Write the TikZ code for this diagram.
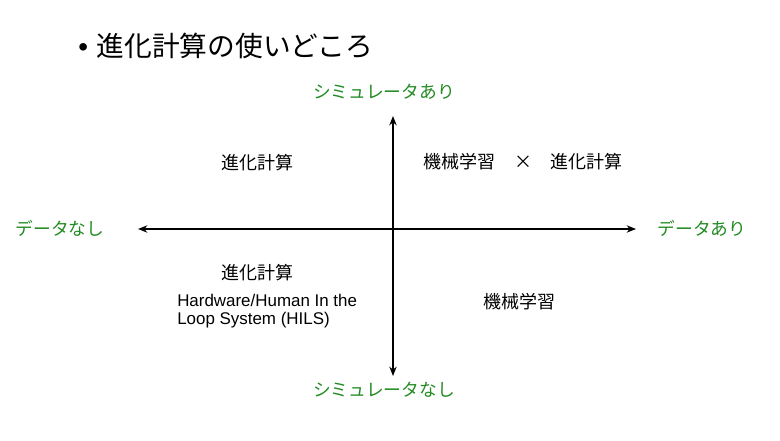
\documentclass[tikz,border=0pt]{standalone}
\usepackage{fontspec}
\setmainfont{Liberation Sans}
\newfontfamily\cjk{Noto Sans CJK JP}
\usetikzlibrary{arrows.meta}
\definecolor{midori}{RGB}{34,139,34}
\begin{document}
\begin{tikzpicture}[x=0.75pt,y=-0.75pt,line join=round,>={Stealth[length=7pt,width=5.5pt]}]
	\tikzset{
		jiku/.style={<->,line width=1.1pt},
		ryoiki/.style={text=midori,font=\cjk\fontsize{13.3}{16}\selectfont,inner sep=0pt},
		koumoku/.style={font=\cjk\fontsize{13.5}{16}\selectfont,inner sep=0pt},
		eigo/.style={font=\fontsize{12.7}{15}\selectfont,inner sep=0pt,anchor=west}
	}
	\useasboundingbox[fill=white](0,0)rectangle(780,440);
	% title
	\node[font=\fontsize{20.8}{24}\selectfont,inner sep=0pt,anchor=west](midashi) at (78,46)
		{\textbullet\hspace{6.5pt}{\cjk 進化計算の使いどころ}};
	% axes
	\coordinate(ue) at (393,116);
	\coordinate(shita) at (393,376);
	\coordinate(hidari) at (138,229);
	\coordinate(migi) at (636,229);
	\draw[jiku](shita)--(ue);
	\draw[jiku](hidari)--(migi);
	% axis labels
	\node[ryoiki](simari) at (384,92){シミュレータあり};
	\node[ryoiki](simnasi) at (384,390){シミュレータなし};
	\node[ryoiki](detanasi) at (60,228){データなし};
	\node[ryoiki](detaari) at (702,228){データあり};
	% quadrants
	\node[koumoku](hidariue) at (257,163){進化計算};
	\node[koumoku](migiue) at (523,162){機械学習\hspace{14pt}×\hspace{14pt}進化計算};
	\node[koumoku](hidarishita) at (257,273){進化計算};
	\node[eigo](hils1) at (177,300){Hardware/Human In the};
	\node[eigo](hils2) at (177,320){Loop System (HILS)};
	\node[koumoku](migishita) at (519,302){機械学習};
\end{tikzpicture}
\end{document}
